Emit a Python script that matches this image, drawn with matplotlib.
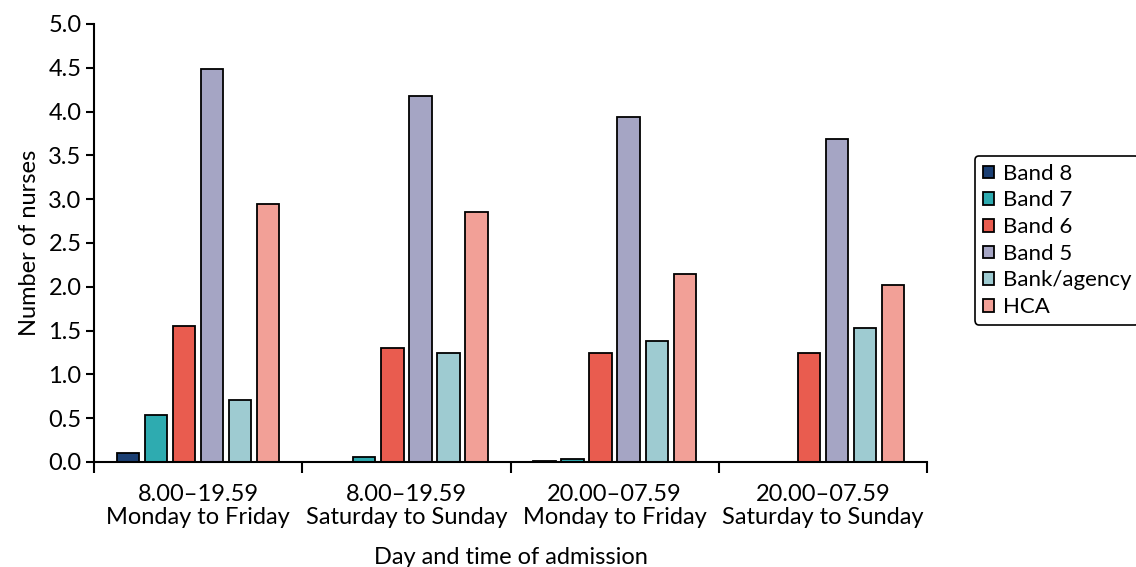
import matplotlib
matplotlib.use("Agg")
import matplotlib.pyplot as plt
import numpy as np

plt.rcParams['font.family'] = ['Lato', 'DejaVu Sans']

categories = ["8.00\u201319.59\nMonday to Friday", "8.00\u201319.59\nSaturday to Sunday",
              "20.00\u201307.59\nMonday to Friday", "20.00\u201307.59\nSaturday to Sunday"]
series_names = ["Band 8", "Band 7", "Band 6", "Band 5", "Bank/agency", "HCA"]
band8 = [0.10, 0.00, 0.01, 0.00]
band7 = [0.54, 0.06, 0.03, 0.00]
band6 = [1.55, 1.30, 1.24, 1.24]
band5 = [4.49, 4.18, 3.94, 3.69]
bank = [0.71, 1.24, 1.38, 1.53]
hca = [2.95, 2.85, 2.15, 2.02]
series_values = [band8, band7, band6, band5, bank, hca]
colors = ["#1b3f73", "#2eabb0", "#e95c4f", "#a5a5c4", "#9ecbd1", "#f2a097"]

FS = 17

fig = plt.figure(figsize=(11.36, 5.67), dpi=100)
ax = fig.add_axes([94/1136, 1-462/567, (927-94)/1136, (462-24)/567])

x = np.arange(len(categories))
pitch = 0.1346
width = 0.107
for i, (name, vals, c) in enumerate(zip(series_names, series_values, colors)):
    offs = (i - 2.5) * pitch
    ax.bar(x + offs, vals, width=width, color=c, edgecolor="black", linewidth=1.3, label=name)

ax.set_xlim(-0.5, len(categories) - 0.5)
ax.set_ylim(0, 5.0)
ax.set_yticks(np.arange(0, 5.01, 0.5))
ax.set_yticklabels([f"{v:.1f}" for v in np.arange(0, 5.01, 0.5)])
ax.set_xticks(x)
ax.set_xticklabels(categories, linespacing=1.1)
ax.tick_params(axis='x', which='major', length=0, pad=16, labelsize=FS)
ax.set_xticks(np.arange(-0.5, len(categories)), minor=True)
ax.tick_params(axis='x', which='minor', length=8, width=1.5, direction='out')
ax.tick_params(axis='y', length=6, width=1.5, labelsize=FS, pad=3)
for s in ['top', 'right']:
    ax.spines[s].set_visible(False)
for s in ['left', 'bottom']:
    ax.spines[s].set_linewidth(1.5)

ax.set_ylabel("Number of nurses", fontsize=FS, labelpad=6)
ax.set_xlabel("Day and time of admission", fontsize=FS, labelpad=14)

leg = ax.legend(loc='upper left', bbox_to_anchor=(975/1136, 1-156/567), bbox_transform=fig.transFigure,
                fontsize=16, frameon=True, fancybox=True, edgecolor="black", framealpha=1,
                handlelength=0.5, handleheight=0.5, handletextpad=0.4, labelspacing=0.3,
                borderpad=0.35, borderaxespad=0)
leg.get_frame().set_linewidth(1.2)

fig.savefig("out.png", dpi=100)
